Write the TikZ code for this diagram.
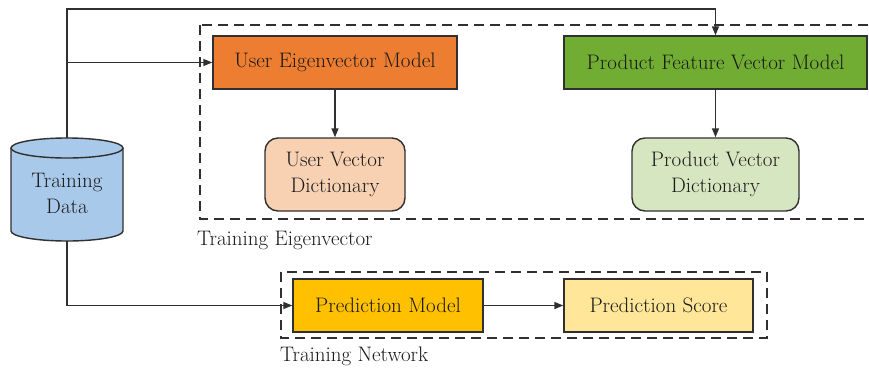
\documentclass[tikz,border=0pt]{standalone}
\usetikzlibrary{arrows.meta}
\definecolor{ink}{HTML}{1A1A1A}
\definecolor{edge}{HTML}{303030}
\definecolor{uemfill}{HTML}{ED7D31}
\definecolor{pfvmfill}{HTML}{70AD32}
\definecolor{uvdfill}{HTML}{F8D0B2}
\definecolor{pvdfill}{HTML}{D6E6C0}
\definecolor{pmfill}{HTML}{FFC000}
\definecolor{psfill}{HTML}{FFE699}
\definecolor{dbfill}{HTML}{A9C9EA}
\tikzset{
  x=1pt, y=-1pt,
  every node/.style={text=ink, font=\fontsize{21}{26}\selectfont},
  box/.style={draw=edge, line width=1.4pt, minimum height=53pt, inner sep=0pt, align=center},
  dict/.style={box, rounded corners=13pt, minimum height=73pt},
  arr/.style={draw=edge, line width=1.4pt, -{Triangle[length=9pt,width=7pt]}},
  wire/.style={draw=edge, line width=1.4pt},
  group/.style={draw=edge, line width=1.4pt, dash pattern=on 10pt off 6pt},
  caption/.style={anchor=west, inner sep=0pt}
}
\begin{document}
\begin{tikzpicture}
\clip (0,0) rectangle (869,372);
\fill[white] (0,0) rectangle (869,372);

% dashed group frames
\draw[group] (200,25) rectangle (900,219);
\draw[group] (281,272) rectangle (767,338);
\node[caption] (lblEig) at (197,240) {Training Eigenvector};
\node[caption] (lblNet) at (280,356) {Training Network};

% model boxes
\node[box, fill=uemfill, minimum width=244pt] (uem) at (335,62.5) {User Eigenvector Model};
\node[box, fill=pfvmfill, minimum width=303pt] (pfvm) at (715.5,62.5) {Product Feature Vector Model};
\node[dict, fill=uvdfill, minimum width=140pt] (uvd) at (335,174.5) {User Vector\\Dictionary};
\node[dict, fill=pvdfill, minimum width=167pt] (pvd) at (715.5,174.5) {Product Vector\\Dictionary};
\node[box, fill=pmfill, minimum width=190pt] (pm) at (388,305.5) {Prediction Model};
\node[box, fill=psfill, minimum width=189pt] (ps) at (658.5,305.5) {Prediction Score};

% database cylinder
\fill[dbfill] (11,148) -- (11,231) arc[start angle=180, end angle=0, x radius=56, y radius=10]
  -- (123,148) arc[start angle=0, end angle=-180, x radius=56, y radius=10] -- cycle;
\draw[wire] (11,148) -- (11,231) arc[start angle=180, end angle=0, x radius=56, y radius=10] -- (123,148);
\draw[wire] (67,148) ellipse[x radius=56, y radius=10];
\node[align=center] (td) at (67,193) {Training\\Data};
\coordinate (cyltop) at (67,138);
\coordinate (cylbot) at (67,241);
\coordinate (corner) at (67,9);

% connectors
\draw[arr] (cyltop) |- (uem.west);
\draw[arr] (cyltop) -- (corner) -| (pfvm.north);
\draw[arr] (cylbot) |- (pm.west);
\draw[arr] (uem.south) -- (uvd.north);
\draw[arr] (pfvm.south) -- (pvd.north);
\draw[arr] (pm.east) -- (ps.west);
\end{tikzpicture}
\end{document}
